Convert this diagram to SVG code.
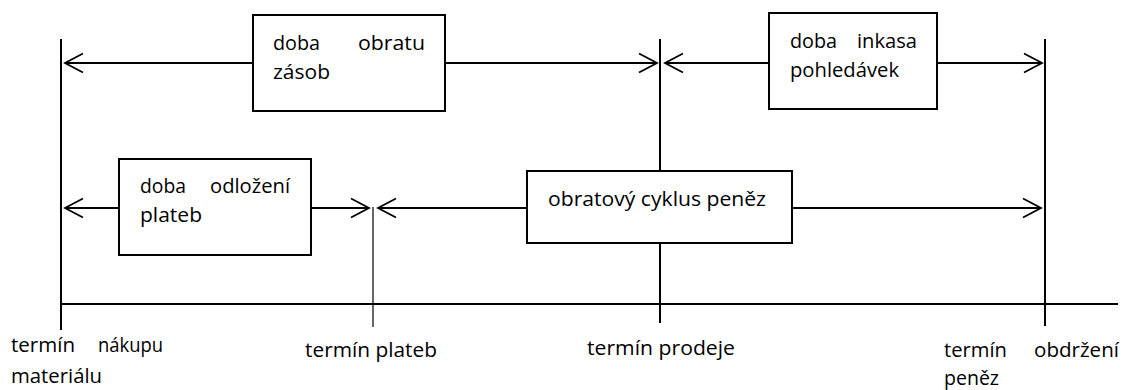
<svg xmlns="http://www.w3.org/2000/svg" width="1124" height="390" viewBox="0 0 1124 390">
  <style>
    .ln { stroke: #000; stroke-width: 2; fill: none; }
    .thin { stroke: #000; stroke-width: 1.2; fill: none; }
    .box { fill: #fff; stroke: #000; stroke-width: 2; }
    .t { font-family: "Open Sans", "Liberation Sans", sans-serif; font-size: 20px; fill: #000; }
  </style>
  <defs>
    <marker id="arr" markerUnits="userSpaceOnUse" markerWidth="22" markerHeight="24" refX="19" refY="11" orient="auto-start-reverse">
      <path d="M1,1.5 L19,11 L1,20.5" fill="none" stroke="#000" stroke-width="1.8"/>
    </marker>
  </defs>
  <rect width="1124" height="390" fill="#fff"/>

  <g id="axis">
    <line class="ln" x1="61" y1="304" x2="1118" y2="304"/>
    <line class="ln" x1="61" y1="39" x2="61" y2="330"/>
    <line class="ln" x1="660" y1="39" x2="660" y2="323"/>
    <line class="ln" x1="1045" y1="39" x2="1045" y2="326"/>
    <line class="thin" x1="373" y1="207" x2="373" y2="327"/>
  </g>

  <g id="connectors">
    <line class="ln" x1="65" y1="63" x2="253" y2="63" marker-start="url(#arr)"/>
    <line class="ln" x1="445" y1="63" x2="657" y2="63" marker-end="url(#arr)"/>
    <line class="ln" x1="769" y1="63" x2="665" y2="63" marker-end="url(#arr)"/>
    <line class="ln" x1="937" y1="63" x2="1042" y2="63" marker-end="url(#arr)"/>
    <line class="ln" x1="65" y1="208" x2="119" y2="208" marker-start="url(#arr)"/>
    <line class="ln" x1="311" y1="208" x2="369" y2="208" marker-end="url(#arr)"/>
    <line class="ln" x1="527" y1="208" x2="378" y2="208" marker-end="url(#arr)"/>
    <line class="ln" x1="792" y1="208" x2="1041" y2="208" marker-end="url(#arr)"/>
  </g>

  <g id="doba-obratu-zasob">
    <rect class="box" x="253" y="15" width="192" height="96"/>
    <text class="t" x="273" y="50" textLength="47" lengthAdjust="spacingAndGlyphs">doba</text>
    <text class="t" x="358" y="50" textLength="67" lengthAdjust="spacingAndGlyphs">obratu</text>
    <text class="t" x="273" y="79" textLength="57" lengthAdjust="spacingAndGlyphs">zásob</text>
  </g>

  <g id="doba-inkasa">
    <rect class="box" x="769" y="13" width="168" height="96"/>
    <text class="t" x="790" y="48" textLength="47" lengthAdjust="spacingAndGlyphs">doba</text>
    <text class="t" x="857" y="48" textLength="60" lengthAdjust="spacingAndGlyphs">inkasa</text>
    <text class="t" x="790" y="77" textLength="109" lengthAdjust="spacingAndGlyphs">pohledávek</text>
  </g>

  <g id="doba-odlozeni">
    <rect class="box" x="119" y="159" width="192" height="96"/>
    <text class="t" x="140" y="193" textLength="46" lengthAdjust="spacingAndGlyphs">doba</text>
    <text class="t" x="210" y="193" textLength="80" lengthAdjust="spacingAndGlyphs">odložení</text>
    <text class="t" x="140" y="222" textLength="62" lengthAdjust="spacingAndGlyphs">plateb</text>
  </g>

  <g id="obratovy-cyklus">
    <rect class="box" x="527" y="171" width="265" height="72"/>
    <text class="t" x="548" y="206" textLength="218" lengthAdjust="spacingAndGlyphs">obratový cyklus peněz</text>
  </g>

  <g id="label-nakup">
    <text class="t" x="11" y="352" textLength="64" lengthAdjust="spacingAndGlyphs">termín</text>
    <text class="t" x="98" y="352" textLength="65" lengthAdjust="spacingAndGlyphs">nákupu</text>
    <text class="t" x="11" y="383" textLength="91" lengthAdjust="spacingAndGlyphs">materiálu</text>
  </g>
  <g id="label-plateb">
    <text class="t" x="305" y="357" textLength="132" lengthAdjust="spacingAndGlyphs">termín plateb</text>
  </g>
  <g id="label-prodej">
    <text class="t" x="587" y="355" textLength="148" lengthAdjust="spacingAndGlyphs">termín prodeje</text>
  </g>
  <g id="label-obdrzeni">
    <text class="t" x="944" y="357" textLength="63" lengthAdjust="spacingAndGlyphs">termín</text>
    <text class="t" x="1034" y="357" textLength="85" lengthAdjust="spacingAndGlyphs">obdržení</text>
    <text class="t" x="944" y="385" textLength="55" lengthAdjust="spacingAndGlyphs">peněz</text>
  </g>
</svg>
